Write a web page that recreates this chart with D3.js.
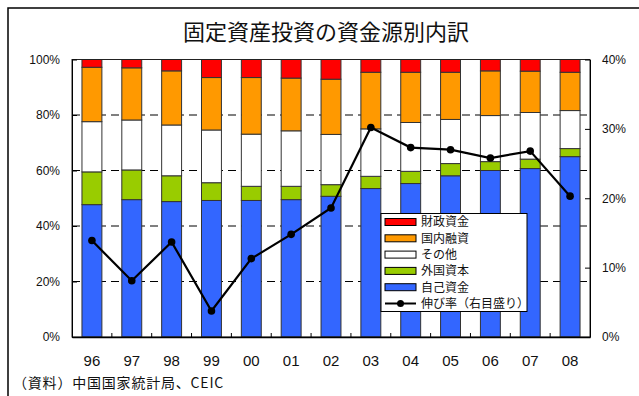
<!DOCTYPE html>
<html><head><meta charset="utf-8">
<script src="https://cdn.jsdelivr.net/npm/d3@7"></script>
<style>html,body{margin:0;padding:0;background:#fff;}svg{display:block;}</style>
</head><body>
<svg id="c" width="639" height="396"></svg>
<script>
const years = ["96","97","98","99","00","01","02","03","04","05","06","07","08"];
const seriesNames = ["自己資金","外国資本","その他","国内融資","財政資金"];
const seriesColors = ["#3366FF","#99CC00","#FFFFFF","#FF9900","#FF0000"];
const selfFunds   = [47.7,49.5,48.8,49.2,49.2,49.5,50.7,53.5,55.3,58.1,60.0,60.7,65.0];
const foreignCap  = [11.8,10.7, 9.3, 6.4, 5.1, 4.8, 4.2, 4.4, 4.4, 4.4, 3.2, 3.4, 2.9];
const others      = [18.1,18.0,18.3,19.0,18.8,20.0,18.1,17.1,17.6,15.9,16.6,16.8,13.7];
const domesticLoan= [19.6,18.8,19.5,18.9,20.4,19.0,19.9,20.4,18.1,17.0,16.1,14.9,13.8];
const fiscalFunds = [ 2.8, 3.0, 4.1, 6.5, 6.5, 6.7, 7.1, 4.6, 4.6, 4.6, 4.1, 4.2, 4.6];
const growthRate  = [13.9, 8.1,13.7, 3.75,11.3,14.8,18.6,30.2,27.3,27.0,25.8,26.8,20.3];
const leftTicks = [0,20,40,60,80,100];
const rightTicks = [0,10,20,30,40];
const lineLabel = "伸び率（右目盛り）";
const titleText = "固定資産投資の資金源別内訳";
const sourceText = "（資料）中国国家統計局、CEIC";

const rows = years.map((y,i)=>({year:y,
  "自己資金":selfFunds[i],"外国資本":foreignCap[i],"その他":others[i],"国内融資":domesticLoan[i],"財政資金":fiscalFunds[i]}));

const svg = d3.select("#c");
const L=72, R=590, T=59.5, B=337;
const numFont = "'Liberation Sans', Arial, sans-serif";
const jpFont = "'Noto Sans CJK JP', sans-serif";

// outer frame
svg.append("rect").attr("x",8).attr("y",8).attr("width",700).attr("height",500)
  .attr("fill","none").attr("stroke","#000").attr("stroke-width",1.5);

svg.append("text").attr("x",326).attr("y",40).attr("text-anchor","middle")
  .attr("font-family",jpFont).attr("font-size",22).attr("fill","#111").text(titleText);

const x = d3.scaleBand().domain(years).range([L,R]).paddingInner(0.5).paddingOuter(0.25);
const yL = d3.scaleLinear().domain([0,100]).range([B,T]);
const yR = d3.scaleLinear().domain([0,40]).range([B,T]);

// gridlines
svg.append("g").selectAll("line").data(leftTicks.filter(d=>d>0&&d<100)).join("line")
  .attr("x1",L).attr("x2",R).attr("y1",d=>yL(d)).attr("y2",d=>yL(d))
  .attr("stroke","#000").attr("stroke-width",1).attr("stroke-dasharray","8,5");

// bars
const stack = d3.stack().keys(seriesNames)(rows);
svg.append("g").selectAll("g").data(stack).join("g")
  .attr("fill",(d,i)=>seriesColors[i])
  .selectAll("rect").data(d=>d).join("rect")
  .attr("x",d=>x(d.data.year)).attr("width",x.bandwidth())
  .attr("y",d=>yL(d[1])).attr("height",d=>yL(d[0])-yL(d[1]))
  .attr("stroke","#333").attr("stroke-width",1);

// plot border
svg.append("rect").attr("x",L).attr("y",T).attr("width",R-L).attr("height",B-T)
  .attr("fill","none").attr("stroke","#222").attr("stroke-width",1);

// left axis
const gl = svg.append("g").attr("transform",`translate(${L},0)`)
  .call(d3.axisLeft(yL).tickValues(leftTicks).tickFormat(d=>d+"%").tickSizeInner(-5).tickSizeOuter(0).tickPadding(12));
gl.select(".domain").attr("stroke","#000");
gl.selectAll("line").attr("stroke","#000");
gl.selectAll("text").attr("font-family",numFont).attr("font-size",12).attr("fill","#111");

// right axis
const gr = svg.append("g").attr("transform",`translate(${R},0)`)
  .call(d3.axisRight(yR).tickValues(rightTicks).tickFormat(d=>d+"%").tickSizeInner(-5).tickSizeOuter(0).tickPadding(12));
gr.select(".domain").attr("stroke","#000");
gr.selectAll("line").attr("stroke","#000");
gr.selectAll("text").attr("font-family",numFont).attr("font-size",12).attr("fill","#111");

// bottom axis
const gb = svg.append("g").attr("transform",`translate(0,${B})`)
  .call(d3.axisBottom(x).tickSize(0).tickPadding(18));
gb.select(".domain").attr("stroke","#000").attr("stroke-width",1.5);
gb.selectAll("text").attr("font-family",numFont).attr("font-size",15).attr("fill","#111");
// inner ticks at band boundaries
svg.append("g").selectAll("line").data(years.slice(1)).join("line")
  .attr("x1",d=>x(d)-x.step()*x.paddingInner()/2).attr("x2",d=>x(d)-x.step()*x.paddingInner()/2)
  .attr("y1",B).attr("y2",B-4).attr("stroke","#000");

// growth line
const cx = d=>x(d)+x.bandwidth()/2;
svg.append("path").datum(growthRate)
  .attr("d",d3.line().x((d,i)=>cx(years[i])).y(d=>yR(d)))
  .attr("fill","none").attr("stroke","#000").attr("stroke-width",2.2);
svg.append("g").selectAll("circle").data(growthRate).join("circle")
  .attr("cx",(d,i)=>cx(years[i])).attr("cy",d=>yR(d)).attr("r",3.8).attr("fill","#000");

// legend
const lg = svg.append("g");
lg.append("rect").attr("x",381).attr("y",213.5).attr("width",146).attr("height",98)
  .attr("fill","#fff").attr("stroke","#000").attr("stroke-width",1);
const legendItems = seriesNames.map((n,i)=>({name:n,color:seriesColors[i]})).reverse();
legendItems.forEach((it,i)=>{
  const yy = 222 + i*16.3;
  lg.append("rect").attr("x",385).attr("y",yy-3.5).attr("width",31).attr("height",7)
    .attr("fill",it.color).attr("stroke","#000").attr("stroke-width",1);
  lg.append("text").attr("x",421).attr("y",yy).attr("dy","0.36em")
    .attr("font-family",jpFont).attr("font-size",12).attr("fill","#111").text(it.name);
});
{
  const yy = 222 + 5*16.3;
  lg.append("line").attr("x1",385).attr("x2",416).attr("y1",yy).attr("y2",yy).attr("stroke","#000").attr("stroke-width",2);
  lg.append("circle").attr("cx",400.5).attr("cy",yy).attr("r",3.5).attr("fill","#000");
  lg.append("text").attr("x",421).attr("y",yy).attr("dy","0.36em")
    .attr("font-family",jpFont).attr("font-size",12).attr("fill","#111").text(lineLabel);
}

svg.append("text").attr("x",13).attr("y",383).attr("dy","0.36em")
  .attr("font-family",jpFont).attr("font-size",14).attr("letter-spacing",0.8)
  .attr("fill","#111").text(sourceText);
</script>
</body></html>
